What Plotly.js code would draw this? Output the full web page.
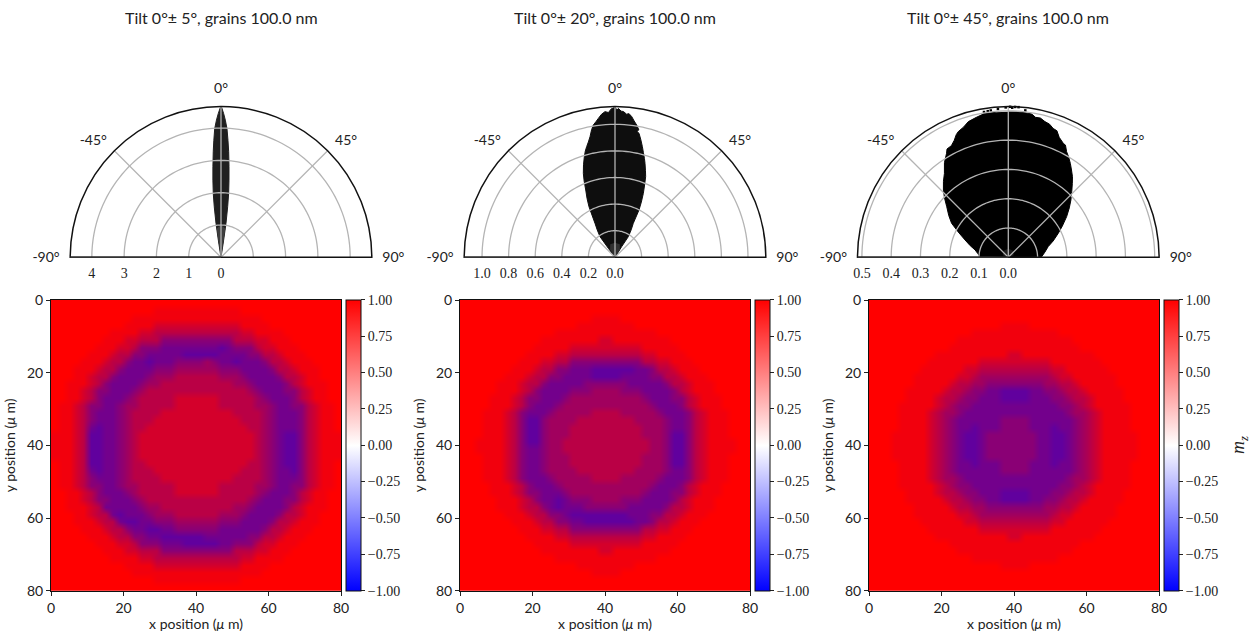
<!DOCTYPE html>
<html><head><meta charset="utf-8">
<script src="https://cdn.plot.ly/plotly-3.0.1.min.js"></script>
<style>html,body{margin:0;padding:0;background:#fff}#c{width:1250px;height:635px}</style>
</head><body><div id="c"></div>
<script>
// Titles and tick labels
const panelTitles = ["Tilt 0°± 5°, grains 100.0 nm","Tilt 0°± 20°, grains 100.0 nm","Tilt 0°± 45°, grains 100.0 nm"];
const radialTicks1 = [0,1,2,3,4], radialText1 = ["0","1","2","3","4"], radialMax1 = 4.67;
const radialTicks2 = [0,0.2,0.4,0.6,0.8,1.0], radialText2 = ["0.0","0.2","0.4","0.6","0.8","1.0"], radialMax2 = 1.134;
const radialTicks3 = [0,0.1,0.2,0.3,0.4,0.5], radialText3 = ["0.0","0.1","0.2","0.3","0.4","0.5"], radialMax3 = 0.515;
const angleTicks = [-90,-45,0,45,90], angleText = ["-90°","-45°","0°","45°","90°"];
const axisTicks = [0,20,40,60,80];
const cbTicks = [-1,-0.75,-0.5,-0.25,0,0.25,0.5,0.75,1];

// Lobe outlines (degrees, radius)
const lobeTheta1 = [0,0.25,1.06,1.81,2.66,3.41,4.15,5.04,5.91,6.83,7.5,8.37,8.75,9,0,-9,-8.8,-8.4,-7.6,-6.9,-6,-5.1,-4.2,-3.5,-2.8,-1.9,-1.1,-0.25];
const lobeR1 = [4.67,4.64,4.45,4.25,3.99,3.63,3.28,2.82,2.4,1.99,1.58,1.06,0.54,0.23,0,0.23,0.54,1.06,1.58,1.99,2.4,2.82,3.28,3.63,3.99,4.25,4.45,4.64];
const lobeTheta2 = [0,0.7,1.3,2.4,3.3,4.6,5.6,6.8,8,9.3,10.6,9.9,10.95,12.4,13.9,15.2,16.6,17.7,19.4,20.8,22.2,23.9,25.5,26.9,28.3,30.5,32.8,32,0,-36.5,-36,-33,-30.5,-27.2,-25.4,-23.5,-22,-20.65,-18.8,-16.95,-15.6,-14.36,-13,-11.7,-10.4,-9.3,-8,-6.84,-5.4,-3.93,-2.6,-1.28];
const lobeR2 = [1.134,1.105,1.12,1.1,1.098,1.08,1.085,1.065,1.035,1.008,0.975,0.96,0.95,0.905,0.857,0.815,0.775,0.742,0.69,0.649,0.59,0.526,0.46,0.399,0.29,0.24,0.185,0.095,0,0.084,0.192,0.245,0.296,0.428,0.49,0.552,0.62,0.675,0.735,0.791,0.83,0.859,0.89,0.926,0.975,1.008,1.03,1.052,1.08,1.098,1.09,1.12];
const lobeTheta3 = [0,3.8,7.1,9.25,11,13,15.1,17.2,19.2,21,23,25.8,27,28.9,31,33.5,35.9,38.5,40.9,44,47.5,51,55.1,60,64.4,70,75,82,89,0,-88.6,-83,-77.6,-73,-68.2,-63,-59,-55,-50.6,-47,-44,-40.5,-37.3,-34,-30.7,-29.5,-27,-24.8,-23,-21.7,-19,-16.4,-13,-9.7,-5];
const lobeR3 = [0.497,0.497,0.497,0.496,0.487,0.488,0.48,0.476,0.466,0.463,0.445,0.432,0.43,0.412,0.4,0.384,0.368,0.352,0.334,0.312,0.29,0.268,0.243,0.213,0.189,0.163,0.141,0.126,0.114,0,0.097,0.105,0.116,0.136,0.159,0.193,0.226,0.248,0.272,0.298,0.319,0.341,0.36,0.39,0.413,0.425,0.428,0.44,0.455,0.462,0.47,0.483,0.49,0.497,0.497];
// Stray points above the third lobe
const strayTheta3 = [-9.5,-6.8,-4,-1,0.7,2.6,3.9,6.6,-8,1.5];
const strayR3 = [0.503,0.505,0.508,0.512,0.514,0.514,0.514,0.505,0.504,0.511];
// Lighter cores next to the origin
const coreTheta1 = [0,8.5,8.8,0,-8.8,-8.5], coreR1 = [1.0,0.9,0.4,0,0.4,0.9];
const coreTheta2 = [0,20,32,0,-32,-20], coreR2 = [0.11,0.105,0.07,0,0.07,0.105];
const coreTheta3 = [0,35,70,0,-70,-35], coreR3 = [0.03,0.027,0.02,0,0.02,0.027];
// Share of reversed grains for each digit used in the map rows below
const reversedShare = [0,0.05,0.17,0.27,0.37,0.46,0.55,0.62];

// Digits per 2 um cell (left half, right half); row 0 is y=0
const grid1 = [
"00000000000000000000 00000000000000000000",
"00000000000000111111 11111100000000000000",
"00000000000111111111 11111111100000000000",
"00000000001111222222 22222211110000000000",
"00000000111122333333 33333322111100000000",
"00000001112233355555 55555333221110000000",
"00000011122355566666 66676555322111000000",
"00000111233556666677 77766665533211100000",
"00001112335667666555 54566766653321110000",
"00011123356666555444 44455566665332111000",
"00011233566665444333 33344456666533211000",
"00111235666654433333 33333445666653211100",
"00112355666543333333 33333334566655321100",
"00112356665433333222 22233333456665321100",
"01123556654433333222 22233333445665532110",
"01123566654333322222 22222333345666532110",
"01123566654333222222 22222233345666532110",
"01123676654332222222 22222223345666532110",
"11123776654322222222 22222222345677532111",
"11123776654322222222 22222222345677532111",
"11123776654322222222 22222222345677532111",
"11123776654322222222 22222222345677532111",
"01123776654332222222 22222223345677532110",
"01123676654333222222 22222233345667532110",
"01123566654333322222 22222333345666532110",
"01123556654433333222 22233333445665532110",
"00112356665433333222 22233333456665321100",
"00112355666543333333 33333334566655321100",
"00111236666654433333 33333445666653211100",
"00011233676665444333 33344456666533211000",
"00011123367766555444 44455566665332111000",
"00001112335667766555 55566666653321110000",
"00000111233556677777 76666665533211100000",
"00000011122355566677 77766555322111000000",
"00000001112233355555 55555333221110000000",
"00000000111122333333 33333322111100000000",
"00000000001111222222 22222211110000000000",
"00000000000111111111 11111111100000000000",
"00000000000000111111 11111100000000000000",
"00000000000000000000 00000000000000000000"];
const grid2 = [
"0000000000000000000000000000000000000000",
"0000000000000000000000000000000000000000",
"0000000000000000001111000000000000000000",
"0000000000000000111111110000000000000000",
"0000000000000111111111111110000000000000",
"0000000000011111111221111111100000000000",
"0000000000111112222222222111110000000000",
"0000000001111223333333333221111000000000",
"0000000011122335555555555332211100000000",
"0000000111233556667777776653321110000000",
"0000001112335566667777666655332111000000",
"0000011123356666655555566666533211100000",
"0000011123566665554444555666653211100000",
"0000111235566654444444444566655321110000",
"0000111235666544444444444456665321110000",
"0001112356665444443333444445666532111000",
"0001112357754444333333334444566532111000",
"0001112357754443333333333444566532111000",
"0001112357754443333333333444577532111000",
"0011112357754433333333333344577532111100",
"0011112356654433333333333344577532111100",
"0001112356654443333333333444577532111000",
"0001112356654443333333333444577532111000",
"0001112356654444333333334444566532111000",
"0001112356665444443333444445666532111000",
"0000111235666544444444444456665321110000",
"0000111235566654444444444566655321110000",
"0000011123566765554444555666653211100000",
"0000011123356766655555566666533211100000",
"0000001112335567777777766655332111000000",
"0000000111233556677777776653321110000000",
"0000000011122335555555555332211100000000",
"0000000001111223333333333221111000000000",
"0000000000111112222222222111110000000000",
"0000000000011111111221111111100000000000",
"0000000000000111111111111110000000000000",
"0000000000000000111111110000000000000000",
"0000000000000000001111000000000000000000",
"0000000000000000000000000000000000000000",
"0000000000000000000000000000000000000000"];
const grid3 = [
"0000000000000000000000000000000000000000",
"0000000000000000000000000000000000000000",
"0000000000000000000000000000000000000000",
"0000000000000000001111000000000000000000",
"0000000000000011111111111100000000000000",
"0000000000001111111111111111000000000000",
"0000000000011111111111111111100000000000",
"0000000001111111111221111111111000000000",
"0000000011111112222222222111111100000000",
"0000000111111223333333333221111110000000",
"0000001111112234444444444322111111000000",
"0000001111123344555555554433211111000000",
"0000011111233455667777665543321111100000",
"0000011112334556667777666554332111100000",
"0000111112345566666666666655432111110000",
"0000111123445666666666666665443211110000",
"0000111123456666665555666666543211110000",
"0000111123456676665555666766543211110000",
"0001111123456776555555566776543211111000",
"0001111123456776555555566776543211111000",
"0001111123456776555555566776543211111000",
"0001111123456776555555566776543211111000",
"0000111123456676665555666766543211110000",
"0000111123456666665555666666543211110000",
"0000111123445666666666666665443211110000",
"0000111112345566666666666655432111110000",
"0000011112334556667777666554332111100000",
"0000011111233455667777665543321111100000",
"0000001111123344555555554433211111000000",
"0000001111112234444444444322111111000000",
"0000000111111223333333333221111110000000",
"0000000011111112222222222111111100000000",
"0000000001111111111221111111111000000000",
"0000000000011111111111111111100000000000",
"0000000000001111111111111111000000000000",
"0000000000000011111111111100000000000000",
"0000000000000000001111000000000000000000",
"0000000000000000000000000000000000000000",
"0000000000000000000000000000000000000000",
"0000000000000000000000000000000000000000"];

const W = 1250, H = 635;
const SANS = 'Lato, "Noto Sans", sans-serif', SERIF = '"Liberation Serif", "Times New Roman", serif';
const toMz = g => g.map(row => row.replace(" ","").split("").map(c => 1 - 2 * reversedShare[Number(c)]));
const fx = p => p / W, fy = p => 1 - p / H;

const panels = [
 {polar:"polar", xa:"x", ya:"y", left:51, cx:221, grid:grid1, lt:lobeTheta1, lr:lobeR1, ct:coreTheta1, cr:coreR1, coreC:"#3e3e3e", fill:"#202020", rt:radialTicks1, rx:radialText1, rm:radialMax1},
 {polar:"polar2", xa:"x2", ya:"y2", left:460, cx:615, grid:grid2, lt:lobeTheta2, lr:lobeR2, ct:coreTheta2, cr:coreR2, coreC:"#303030", fill:"#0e0e0e", rt:radialTicks2, rx:radialText2, rm:radialMax2},
 {polar:"polar3", xa:"x3", ya:"y3", left:869, cx:1008.3, grid:grid3, lt:lobeTheta3, lr:lobeR3, ct:coreTheta3, cr:coreR3, coreC:"#1c1c1c", fill:"#000000", rt:radialTicks3, rx:radialText3, rm:radialMax3}
];
const GRID = "#b4b4b4";
const traces = [];
const layout = {
  width:W, height:H, paper_bgcolor:"#fff", plot_bgcolor:"#fff", showlegend:false,
  margin:{l:0,r:0,t:0,b:0,autoexpand:false}, annotations:[], font:{family:SERIF,size:14,color:"#222"}
};
panels.forEach((p,i) => {
  const n = i === 0 ? "" : String(i + 1);
  traces.push({type:"scatterpolar", subplot:p.polar, mode:"lines", theta:p.lt, r:p.lr, fill:"toself", fillcolor:p.fill, line:{color:p.fill,width:1}, hoverinfo:"skip"});
  traces.push({type:"scatterpolar", subplot:p.polar, mode:"lines", theta:p.ct, r:p.cr, fill:"toself", fillcolor:p.coreC, line:{color:p.coreC,width:0}, hoverinfo:"skip"});
  if (i === 2) traces.push({type:"scatterpolar", subplot:p.polar, mode:"markers", theta:strayTheta3, r:strayR3, marker:{symbol:"square",size:2.5,color:"#000"}, hoverinfo:"skip"});
  // Grid sits above the lobes
  p.rt.slice(1).forEach(v => {
    const th = [], rr = [];
    for (let a = -90; a <= 90; a += 2) { th.push(a); rr.push(v); }
    traces.push({type:"scatterpolar", subplot:p.polar, mode:"lines", theta:th, r:rr, line:{color:GRID,width:1.3}, hoverinfo:"skip"});
  });
  [-45,0,45].forEach(a => traces.push({type:"scatterpolar", subplot:p.polar, mode:"lines", theta:[a,a], r:[0,p.rm], line:{color:GRID,width:1.3}, hoverinfo:"skip"}));
  layout[p.polar] = {
    domain:{x:[fx(p.cx-150.8),fx(p.cx+150.8)], y:[fy(257.3),fy(106.5)]},
    sector:[0,180], bgcolor:"#fff",
    angularaxis:{rotation:90, direction:"clockwise", thetaunit:"degrees", tickmode:"array", tickvals:angleTicks, ticktext:angleText, showgrid:false, showline:true, linecolor:"#111", linewidth:1.5, ticks:"outside", ticklen:7, tickcolor:"rgba(0,0,0,0)", tickfont:{family:SANS,size:14,color:"#222"}},
    radialaxis:{range:[0,p.rm], angle:180, tickangle:180, tickmode:"array", tickvals:p.rt, ticktext:p.rx, showgrid:false, showline:true, linecolor:"#333", linewidth:1.5, ticks:"", side:"counterclockwise", tickfont:{family:SERIF,size:14,color:"#222"}}
  };
  traces.push({type:"heatmap", xaxis:p.xa, yaxis:p.ya, z:toMz(p.grid), x0:1, dx:2, y0:1, dy:2, zmin:-1, zmax:1, zsmooth:"best",
    colorscale:[[0,"rgb(0,0,255)"],[1,"rgb(255,0,0)"]], showscale:false, hoverinfo:"skip"});
  // Transparent twin of the map that carries the colour bar of the true colour map
  traces.push({type:"heatmap", xaxis:p.xa, yaxis:p.ya, z:[[-1,1]], x0:39, dx:1, y0:40, dy:1, opacity:0, hoverinfo:"skip", zmin:-1, zmax:1,
    colorscale:[[0,"rgb(0,0,255)"],[0.5,"rgb(255,255,255)"],[1,"rgb(255,0,0)"]], showscale:true,
    colorbar:{x:fx(p.left+295), xanchor:"left", y:fy(590.7), yanchor:"bottom", len:290.7/H, lenmode:"fraction", thickness:15, thicknessmode:"pixels", xpad:0, ypad:0,
      outlinewidth:1, outlinecolor:"#111", tickmode:"array", tickvals:cbTicks, ticktext:cbTicks.map(v => (v<0?"\u2212":"")+Math.abs(v).toFixed(2)), ticks:"outside", ticklen:4, tickwidth:1, tickcolor:"#222"}});
  const axis = {range:[0,80], tickmode:"array", tickvals:axisTicks, ticks:"outside", ticklen:4, tickwidth:1, tickcolor:"#222", showline:true, linecolor:"#111", linewidth:1, mirror:true, showgrid:false, zeroline:false, tickfont:{family:SANS,size:14,color:"#222"}};
  layout["xaxis"+n] = Object.assign({}, axis, {anchor:"y"+n, domain:[fx(p.left),fx(p.left+290)], title:{text:"x position (<i>μ</i> m)", standoff:4, font:{family:SANS,size:14,color:"#222"}}});
  layout["yaxis"+n] = Object.assign({}, axis, {anchor:"x"+n, domain:[fy(590.7),fy(300)], range:[80,0], title:{text:"y position (<i>μ</i> m)", standoff:8, font:{family:SANS,size:14,color:"#222"}}});
  layout.annotations.push({xref:"paper", yref:"paper", x:fx(p.cx), y:fy(18), xanchor:"center", yanchor:"middle", showarrow:false, text:panelTitles[i], font:{family:SANS,size:16,color:"#222"}});
});
layout.annotations.push({xref:"paper", yref:"paper", x:fx(1239), y:fy(445), xanchor:"center", yanchor:"middle", showarrow:false, textangle:-90, text:"<i>m<sub>z</sub></i>", font:{family:SERIF,size:18,color:"#222"}});
Plotly.newPlot("c", traces, layout, {displayModeBar:false, staticPlot:true});
</script></body></html>
